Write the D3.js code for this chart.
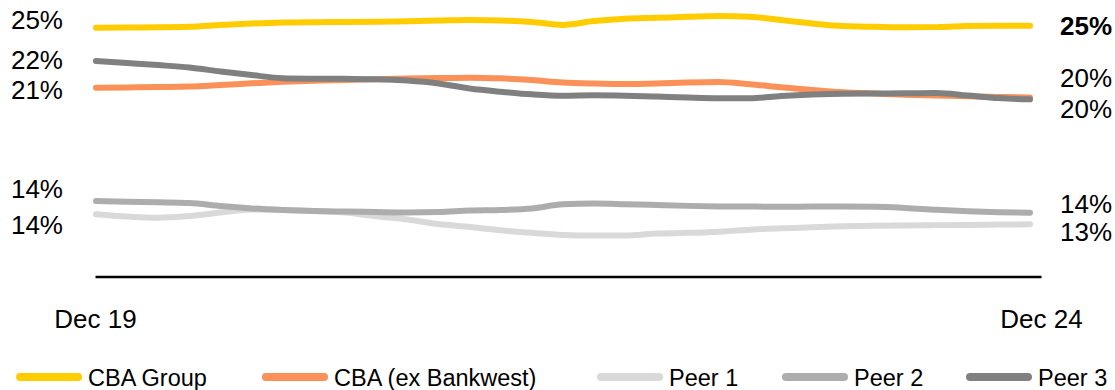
<!DOCTYPE html>
<html>
<head>
<meta charset="utf-8">
<script src="https://cdn.jsdelivr.net/npm/d3@7"></script>
<style>
  html, body { margin: 0; padding: 0; background: #fff; }
  svg { display: block; font-family: "Liberation Sans", Arial, sans-serif; }
</style>
</head>
<body>
<svg id="chart" width="1115" height="390"></svg>
<script>
// ---- Data ----
const categories = ["Dec 19","Feb 20","Apr 20","Jun 20","Aug 20","Oct 20","Dec 20","Feb 21","Apr 21","Jun 21","Aug 21","Oct 21","Dec 21","Feb 22","Apr 22","Jun 22","Aug 22","Oct 22","Dec 22","Feb 23","Apr 23","Jun 23","Aug 23","Oct 23","Dec 23","Feb 24","Apr 24","Jun 24","Aug 24","Oct 24","Dec 24"];
const xTickLabels = ["Dec 19", "Dec 24"];
const seriesNames = ["CBA Group", "CBA (ex Bankwest)", "Peer 1", "Peer 2", "Peer 3"];
const cbaGroup = [24.44,24.46,24.47,24.50,24.60,24.69,24.75,24.77,24.78,24.79,24.82,24.86,24.90,24.87,24.78,24.61,24.83,24.97,25.02,25.08,25.13,25.09,24.89,24.69,24.54,24.50,24.47,24.48,24.54,24.56,24.56];
const cbaExBankwest = [20.95,20.97,20.99,21.02,21.11,21.21,21.30,21.36,21.40,21.45,21.49,21.52,21.54,21.50,21.40,21.26,21.20,21.17,21.20,21.26,21.29,21.16,20.98,20.82,20.69,20.62,20.55,20.50,20.46,20.42,20.38];
const peer1 = [13.59,13.46,13.39,13.49,13.69,13.87,13.84,13.78,13.69,13.48,13.29,13.02,12.85,12.66,12.51,12.39,12.35,12.36,12.47,12.51,12.58,12.69,12.78,12.83,12.89,12.92,12.94,12.96,12.97,12.99,13.01];
const peer2 = [14.36,14.32,14.29,14.25,14.07,13.93,13.84,13.78,13.75,13.72,13.70,13.72,13.81,13.84,13.93,14.17,14.22,14.18,14.13,14.08,14.05,14.04,14.03,14.04,14.04,14.03,13.96,13.85,13.77,13.71,13.68];
const peer3 = [22.51,22.39,22.27,22.13,21.90,21.69,21.51,21.48,21.47,21.45,21.37,21.20,20.91,20.72,20.57,20.49,20.51,20.49,20.44,20.38,20.34,20.34,20.47,20.56,20.61,20.62,20.63,20.65,20.50,20.35,20.28];
const startLabels = ["25%", "22%", "21%", "14%", "14%"]; // CBA Group, Peer 3, CBA ex BW, Peer 2, Peer 1
const endLabels = ["25%", "20%", "20%", "14%", "13%"];   // CBA Group, CBA ex BW, Peer 3, Peer 2, Peer 1

// ---- Styles / layout ----
const colors = ["#FFCC00", "#F99159", "#D9D9D9", "#ADADAD", "#808080"];
const layout = {
  lineLeft: 96, lineRight: 1030,
  axisLeft: 95, axisRight: 1041, axisY: 276.5,
  yTop: 1, yBottom: 276,
  startLabelX: 63, startLabelY: [29, 69, 99, 198, 234],
  endLabelX: 1060, endLabelY: [35, 87, 118, 213, 241],
  legendX: [16, 262, 597, 782, 966], legendY: 377, legendSym: 58
};

const svg = d3.select("#chart");
const x = d3.scalePoint().domain(categories).range([layout.lineLeft, layout.lineRight]);
const xAxisScale = d3.scalePoint().domain(categories).range([layout.axisLeft, layout.axisRight]);
const y = d3.scaleLinear().domain([10, 26]).range([layout.yBottom, layout.yTop]);

const allSeries = [cbaGroup, cbaExBankwest, peer1, peer2, peer3];

// axis
const axis = d3.axisBottom(xAxisScale).tickValues(xTickLabels).tickSize(0).tickPadding(33);
const gAxis = svg.append("g").attr("transform", `translate(0,${layout.axisY})`).call(axis);
gAxis.select(".domain").attr("stroke", "#000").attr("stroke-width", 2.5);
gAxis.selectAll(".tick text").attr("font-size", 26).attr("fill", "#000")
  .attr("font-family", '"Liberation Sans", Arial, sans-serif');

// lines
const line = d3.line()
  .x((d, i) => x(categories[i]))
  .y(d => y(d))
  .curve(d3.curveMonotoneX);

svg.append("g").selectAll("path")
  .data(allSeries)
  .join("path")
  .attr("d", d => line(d))
  .attr("fill", "none")
  .attr("stroke", (d, i) => colors[i])
  .attr("stroke-width", 6)
  .attr("stroke-linecap", "round")
  .attr("stroke-linejoin", "round");

// start labels
svg.append("g").selectAll("text")
  .data(startLabels)
  .join("text")
  .attr("x", layout.startLabelX)
  .attr("y", (d, i) => layout.startLabelY[i])
  .attr("text-anchor", "end")
  .attr("font-size", 26)
  .attr("fill", "#000")
  .text(d => d);

// end labels
svg.append("g").selectAll("text")
  .data(endLabels)
  .join("text")
  .attr("x", layout.endLabelX)
  .attr("y", (d, i) => layout.endLabelY[i])
  .attr("font-size", 26)
  .attr("font-weight", (d, i) => i === 0 ? "bold" : "normal")
  .attr("fill", "#000")
  .text(d => d);

// legend
const leg = svg.append("g").selectAll("g")
  .data(seriesNames)
  .join("g")
  .attr("transform", (d, i) => `translate(${layout.legendX[i]},${layout.legendY})`);
leg.append("line")
  .attr("x1", 4).attr("x2", 4 + layout.legendSym)
  .attr("y1", 0).attr("y2", 0)
  .attr("stroke", (d, i) => colors[i])
  .attr("stroke-width", 8)
  .attr("stroke-linecap", "round");
leg.append("text")
  .attr("x", layout.legendSym + 14)
  .attr("y", 8.5)
  .attr("font-size", 23.5)
  .attr("fill", "#000")
  .text(d => d);
</script>
</body>
</html>
